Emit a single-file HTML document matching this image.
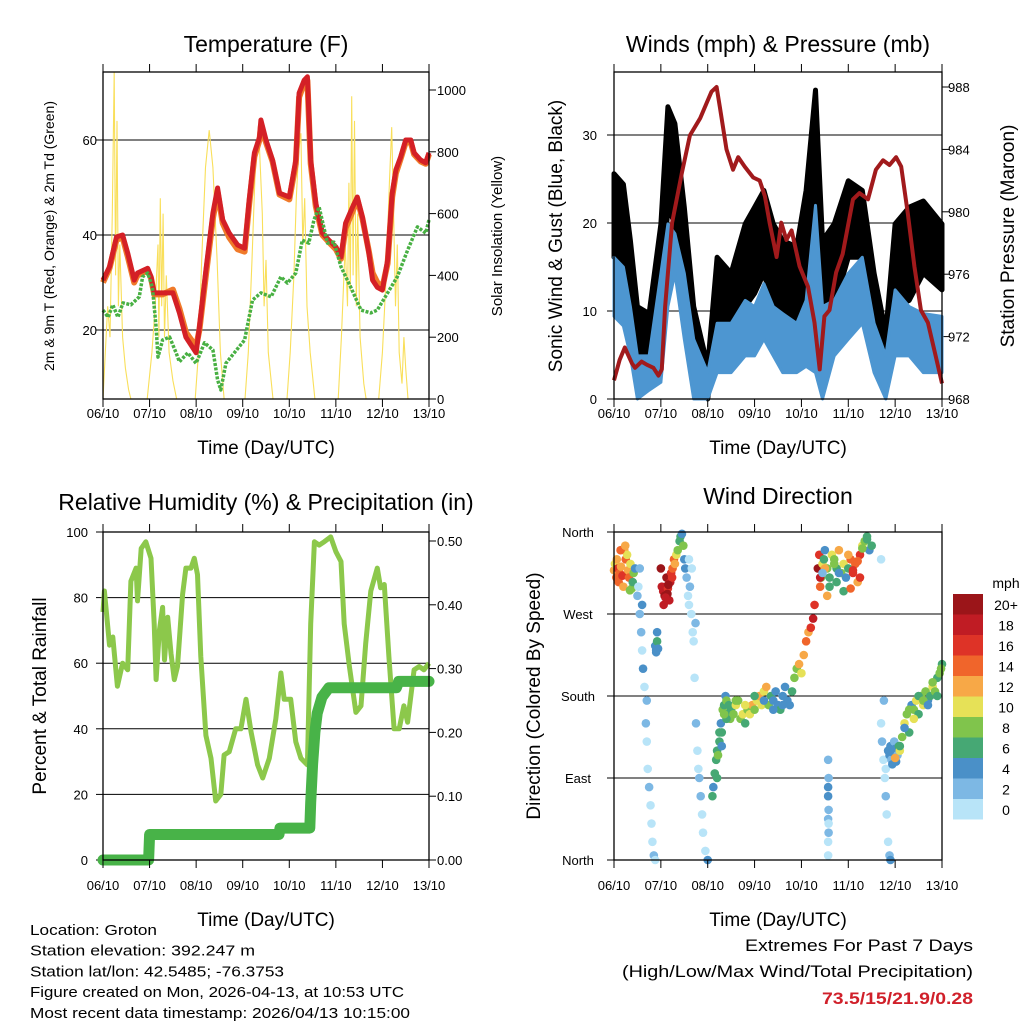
<!DOCTYPE html>
<html><head><meta charset="utf-8"><style>
html,body{margin:0;padding:0;background:#fff;}
svg text{font-family:"Liberation Sans",sans-serif;}
</style></head><body>
<svg id="chart" width="1024" height="1024" viewBox="0 0 1024 1024" xmlns="http://www.w3.org/2000/svg"></svg>
<script>
// ---------- data ----------
const dayLabels = ["06/10","07/10","08/10","09/10","10/10","11/10","12/10","13/10"];
// Temperature 2m (red)
const tempT = [0,0.14,0.29,0.42,0.53,0.67,0.74,0.96,1.03,1.10,1.28,1.50,1.64,1.78,2.0,2.07,2.21,2.36,2.46,2.57,2.71,2.89,3.04,3.14,3.25,3.36,3.39,3.50,3.64,3.79,4.0,4.14,4.21,4.32,4.39,4.46,4.57,4.71,4.85,5.0,5.11,5.21,5.36,5.46,5.57,5.71,5.79,5.89,6.0,6.11,6.21,6.29,6.39,6.5,6.61,6.68,6.82,6.93,7.0];
const temp2m = [30.5,33.3,39.6,40,36.2,30.5,32,33,31.2,27.8,27.8,27.8,23.6,18.5,15.2,20.6,32.6,44.6,49.9,43.2,40.4,37.9,37.2,47.4,57.3,60.6,64.2,60,55.8,48.8,48,55.8,69.9,72.6,73.3,55.8,46.7,40.4,38.9,37.5,35.4,42.5,45.9,48,43.8,36.2,30.5,29,28.4,34.7,48.8,53.7,56.4,60,60,57.3,55.8,55.2,57.3];
const temp9m = [30,33,39,39.5,35.5,30,31.5,32.5,31,27.5,27.5,28.5,24.5,19.5,16.5,20,31.5,43.5,49,42.5,39.5,37,36.5,46.5,56.5,60,63,59.5,55.5,48.5,47.5,55,69,72,72.5,55,46,40,38.5,37,35,41.5,45,47.5,43.5,36.5,32,30,29,34,48,53,56,59.5,59.5,57,55.5,55,57];
// Dewpoint (green)
const tdT = [0,0.11,0.21,0.32,0.43,0.6,0.78,0.85,0.96,1.06,1.14,1.18,1.28,1.43,1.57,1.64,1.82,2.0,2.18,2.36,2.46,2.53,2.64,2.82,3.04,3.21,3.39,3.61,3.82,3.96,4.14,4.28,4.42,4.53,4.64,4.82,4.96,5.11,5.32,5.54,5.75,5.89,6.11,6.32,6.54,6.75,6.93,7.0];
const tdVal = [24.2,22.7,25.3,22.7,25.7,25.3,27,31.2,32,29,20.6,14.3,17.9,18.5,15.2,13.3,15.2,13,17.3,15.8,9.5,7.4,13,15.2,17.9,26.3,27.8,27,31.2,29.9,32,38.9,38.3,43.2,45.9,38.3,38.5,33.3,29,24.2,23.6,24.2,27.8,31.2,36.8,41.7,40.4,43.2];
// Solar insolation (yellow)
const solarT = [0,0.05,0.1,0.15,0.2,0.24,0.27,0.3,0.33,0.36,0.42,0.48,0.55,0.6,
 0.95,1.05,1.12,1.18,1.2,1.23,1.26,1.29,1.32,1.36,1.42,1.5,1.58,
 1.98,2.05,2.12,2.2,2.28,2.36,2.45,2.52,2.6,
 3.05,3.12,3.2,3.27,3.35,3.42,3.46,3.5,3.55,3.65,
 3.95,4.02,4.1,4.15,4.2,4.25,4.29,4.33,4.38,4.45,4.55,
 5.05,5.12,5.2,5.25,5.28,5.31,5.34,5.37,5.4,5.44,5.47,5.52,5.6,5.65,
 5.92,6.0,6.08,6.15,6.2,6.24,6.28,6.32,6.36,6.42,6.46,6.5,6.55,7.0];
const solarVal = [0,150,300,200,600,1060,400,900,300,500,200,100,30,0,
 0,150,300,500,200,650,300,600,200,400,150,60,0,
 0,150,450,750,870,750,450,150,0,
 0,150,450,750,850,600,300,450,150,0,
 0,150,400,650,800,860,500,650,300,150,0,
 0,200,500,300,700,350,980,400,900,300,600,200,50,0,
 0,150,400,700,880,600,300,500,150,50,200,100,0,0];
// Winds
const windT = [0,0.2,0.35,0.5,0.75,1.0,1.15,1.3,1.5,1.7,2.0,2.2,2.5,2.8,3.0,3.2,3.4,3.6,3.9,4.1,4.3,4.45,4.7,5.0,5.3,5.55,5.8,6.0,6.3,6.6,7.0];
const windHi = [16.1,15,10.5,4.9,4.9,14.3,19.9,18.8,14.3,6.8,3,8.6,8.6,11.2,10.5,13.1,10.5,9.7,8.6,11.2,22,10.5,11.2,14.3,16.1,8.6,4.9,12.4,10.5,9.7,9.4];
const windLo = [9.4,8.3,4.9,0,1,1.9,10.5,14.3,6.8,0,0,3,3,4.9,4.9,6.8,4.9,3,3,3.7,3,0,4.9,6.8,8.6,3,0,4.9,4.9,3,3];
const gustHi = [25.6,24.4,18,10.5,9.7,19.9,33.2,31.3,21.8,10.5,3.7,16.1,14.3,19.9,21.8,23.7,19.9,18,17.3,23.7,35.1,18,19.9,24.8,23.7,14.3,7.5,19.9,21.8,22.5,19.9];
const gustLo = [16.1,15,10.5,3,3,10.5,21.8,19.9,14.3,3,0,7.9,7.9,10.5,12,14.3,10.5,7.9,7.9,10.5,18,3,10.5,16.1,16.1,6.8,3,10.5,11.2,14.3,12.4];
// Pressure (maroon)
const presT = [0,0.12,0.23,0.38,0.45,0.59,0.70,0.84,0.95,1.02,1.09,1.24,1.45,1.62,1.84,1.98,2.08,2.19,2.26,2.40,2.54,2.65,2.79,2.97,3.11,3.22,3.32,3.47,3.57,3.68,3.79,3.96,4.14,4.28,4.39,4.49,4.60,4.74,4.88,5.10,5.24,5.42,5.59,5.74,5.88,6.02,6.13,6.27,6.41,6.55,6.70,6.87,7.0];
const presVal = [969.2,970.5,971.3,970.3,970,970.4,970.2,970,969.5,969.9,973.9,979.3,982.5,984.9,986,987,987.7,988,986.7,984,982.7,983.5,982.9,982.2,982,981,979.3,977.1,979.3,978.2,978.8,976.5,975.2,972.9,969.9,973.3,973.7,976.1,977.3,980.8,981.2,980.8,982.7,983.3,983,983.5,982.9,979.9,976.5,973.7,972.9,970.7,969];
// RH (light green)
const rhT = [0,0.03,0.14,0.21,0.31,0.42,0.53,0.60,0.71,0.74,0.82,0.92,1.03,1.10,1.14,1.21,1.28,1.32,1.39,1.46,1.53,1.60,1.71,1.78,1.89,1.96,2.03,2.10,2.21,2.32,2.42,2.53,2.60,2.71,2.85,2.96,3.07,3.18,3.32,3.43,3.57,3.71,3.82,3.89,4.03,4.14,4.25,4.39,4.46,4.54,4.64,4.75,4.89,5.0,5.11,5.18,5.29,5.43,5.54,5.64,5.75,5.89,5.96,6.04,6.14,6.25,6.36,6.46,6.54,6.68,6.79,6.89,7.0];
const rhVal = [75.6,82,65.5,68,53,60,58,85,89,79,95,97,92,72,55,70,77,61,74,63,55,59,81,89,89,92,87,62,38,31,18,20,32,33,40,40,49,39,29,25,31,43,57,49,49,36,31,29,72,97,96,97,98.5,94,91,72,59,45,47,66,82,89,83,84,62,40,40,47,42,58,59,58,60];
// Precipitation (dark green)
const prT = [0,0.98,1.0,3.78,3.8,4.44,4.46,4.5,4.55,4.6,4.7,4.85,6.3,6.35,7.0];
const prVal = [0,0,0.04,0.04,0.05,0.05,0.09,0.15,0.2,0.23,0.255,0.27,0.27,0.28,0.28];
// Wind direction (deg, 0=N bottom) colored by speed
const wdT = [0.0,0.02,0.05,0.08,0.1,0.12,0.15,0.18,0.2,0.22,0.25,0.28,0.3,0.32,0.35,0.38,0.4,0.42,0.45,0.06,0.14,0.24,0.34,
 0.5,0.52,0.55,0.58,0.6,0.62,0.65,0.68,0.7,0.72,0.75,0.78,0.8,0.82,0.85,0.88,0.9,0.92,0.55,0.6,0.7,
 0.88,0.9,0.92,0.94,
 1.0,1.02,1.05,1.08,1.1,1.12,1.15,1.18,1.2,1.22,1.25,1.28,1.06,1.14,1.24,1.1,1.16,
 1.3,1.33,1.36,1.4,1.42,1.45,1.48,1.5,1.52,
 1.55,1.58,1.6,1.62,1.65,1.68,1.7,1.72,1.75,1.78,1.8,1.82,1.85,1.88,1.9,1.95,2.0,1.6,1.66,1.74,
 2.1,2.12,2.15,2.18,2.2,2.22,2.25,2.28,2.3,2.32,2.35,2.38,2.4,2.42,2.45,2.48,2.5,2.55,2.6,2.65,2.7,2.75,2.8,2.85,2.9,2.95,3.0,3.05,3.1,3.15,3.2,3.25,3.3,3.35,3.4,3.45,3.5,3.55,3.6,3.65,3.7,3.75,3.8,3.85,3.9,3.95,4.0,4.05,4.1,4.15,4.2,4.25,4.28,2.2,2.3,2.4,2.6,2.8,3.0,3.2,3.4,3.6,2.25,2.35,
 4.35,4.38,4.4,4.42,4.45,4.48,4.5,4.55,4.6,4.65,4.7,4.75,4.8,4.85,4.9,4.95,5.0,5.05,5.1,5.15,5.2,5.25,5.3,5.35,5.4,5.45,5.5,4.4,4.5,4.6,4.7,4.8,4.9,5.0,5.1,5.2,5.3,5.4,4.45,4.55,4.75,5.05,5.25,
 4.57,4.57,4.58,4.57,4.58,4.57,4.57,4.58,4.57,4.58,
 5.7,5.72,5.75,5.78,5.8,5.82,5.85,5.88,5.9,5.76,5.8,5.7,
 5.85,5.88,5.9,5.92,5.95,5.98,6.0,6.02,6.05,6.08,5.94,6.0,6.1,
 6.1,6.15,6.2,6.25,6.3,6.35,6.4,6.45,6.5,6.55,6.6,6.65,6.7,6.75,6.8,6.85,6.9,6.95,7.0,6.2,6.3,6.4,6.5,6.6,6.7,6.8,6.9,6.98];
const wdDir = [318,325,310,320,305,315,322,312,300,340,330,335,318,310,325,298,305,315,320,330,340,345,296,
 290,300,270,250,230,210,190,150,130,100,80,60,40,20,5,0,230,250,320,280,175,
 235,228,240,232,
 320,300,295,290,300,310,298,285,305,315,320,330,280,292,310,288,302,
 325,335,340,350,355,358,345,330,320,
 310,290,280,300,270,250,240,200,150,120,100,90,70,50,30,10,0,330,320,260,
 70,80,95,110,120,115,130,150,140,165,170,180,175,160,170,155,165,160,170,175,155,160,150,165,160,170,165,175,180,170,185,190,170,180,175,185,170,165,180,190,175,170,185,200,210,215,205,225,240,250,255,265,280,90,125,155,175,170,180,175,165,170,140,160,
 320,335,300,310,325,330,340,320,310,335,330,320,340,315,325,310,320,330,315,325,305,335,345,350,355,340,345,310,320,300,325,315,295,335,318,328,342,352,315,290,305,298,310,
 80,70,55,45,30,20,110,40,5,90,
 150,130,110,90,70,50,20,5,0,175,100,330,
 120,115,125,110,118,130,122,108,115,125,105,112,120,
 125,135,150,160,140,170,165,175,160,180,170,185,175,180,190,185,200,205,215,145,165,155,180,175,170,195,180,210];
const wdSpd = [12,10,14,16,14,15,12,16,13,12,14,11,12,15,10,8,6,8,4,12,14,12,9,
 2,1,3,2,0,4,1,2,0,1,2,0,1,0,2,0,4,5,2,4,3,
 4,5,6,4,
 20,18,19,20,18,20,17,19,18,16,15,14,19,20,17,18,20,
 12,10,8,6,6,4,8,5,4,
 2,1,0,2,1,0,1,0,2,1,0,3,2,1,0,0,4,1,0,3,
 6,4,6,7,6,8,7,5,7,8,6,4,8,6,7,8,6,8,10,9,8,10,7,8,10,12,9,10,12,11,10,13,8,6,4,5,4,6,5,4,4,5,6,8,9,12,10,12,14,13,16,18,16,6,5,7,8,11,6,4,5,4,7,8,
 20,16,14,8,10,6,4,8,6,10,8,6,12,8,10,4,6,14,16,14,12,16,10,8,6,4,6,18,12,6,8,4,6,12,16,14,8,6,2,12,6,14,16,
 4,4,2,2,2,0,2,1,0,3,
 1,2,0,1,2,0,1,3,4,2,0,1,
 4,5,4,3,4,2,4,5,3,6,4,12,10,
 6,8,10,8,6,4,8,10,6,8,10,8,4,6,10,8,6,8,6,4,8,10,6,8,4,8,6,8];
const cbLabels = ["20+","18","16","14","12","10","8","6","4","2","0"];
const cbColors = ["#9b1519","#c01c24","#de3327","#f0652b","#f7a847","#e6e157","#80c44c","#46a874","#4a90c8","#7db8e4","#b8e4f8"];
const extremes = {high:73.5, low:15, wind:21.9, precip:0.28};

// ---------- helpers ----------
const NS = "http://www.w3.org/2000/svg";
const svg = document.getElementById("chart");
function mk(tag, attrs, parent){
  const e = document.createElementNS(NS, tag);
  for (const k in attrs) e.setAttribute(k, attrs[k]);
  (parent||svg).appendChild(e);
  return e;
}
function txt(s, x, y, size, anchor, parent, extra){
  const t = mk("text", Object.assign({x:x, y:y, "font-size":size, "text-anchor":anchor||"middle", fill:"#000"}, extra||{}), parent);
  t.textContent = s;
  return t;
}
function pathFrom(xs, ys){ let d=""; for(let i=0;i<xs.length;i++){ d += (i?"L":"M")+xs[i].toFixed(1)+","+ys[i].toFixed(1);} return d; }
function speedColor(s){ return cbColors[10-Math.min(10, Math.floor(s/2))]; }

function panel(name, L, R, T, B){
  const g = mk("g", {});  
  return {g, L, R, T, B, x: d => L + d*(R-L)/7};
}
function frame(p){
  const r = mk("rect", {x:p.L, y:p.T, width:p.R-p.L, height:p.B-p.T, fill:"none", stroke:"#000", "stroke-width":1.3}, p.g);
   
}
function xaxis(p, labelY){
  const g = mk("g", {}, p.g);  
  for (let i=0;i<dayLabels.length;i++){
    const x = p.x(i);
    mk("line", {x1:x, x2:x, y1:p.B, y2:p.B+8, stroke:"#000", "stroke-width":1}, g);
    mk("line", {x1:x, x2:x, y1:p.T, y2:p.T-8, stroke:"#000", "stroke-width":1}, g);
    const t = txt(dayLabels[i], x, labelY, 13, "middle", g);
     
  }
  const at = txt("Time (Day/UTC)", (p.L+p.R)/2, labelY+36, 19, "middle", g);
   
}
function yTicks(p, vals, yfn, side, labels, grid, tx){
  const g = mk("g", {}, p.g);  
  for (let i=0;i<vals.length;i++){
    const y = yfn(vals[i]);
    if (grid) mk("line", {x1:p.L, x2:p.R, y1:y, y2:y, stroke:"#000", "stroke-width":1}, g);
    if (side==="left") mk("line", {x1:p.L-7, x2:p.L, y1:y, y2:y, stroke:"#000"}, g);
    else mk("line", {x1:p.R, x2:p.R+7, y1:y, y2:y, stroke:"#000"}, g);
    const t = txt(labels[i], tx, y+5, 13, side==="left"?"end":"start", g);
     
  }
}
function vTitle(s, x, y, size, parent){
  const t = txt(s, x, y, size, "middle", parent, {transform:"rotate(-90 "+x+" "+y+")"});
   
}
function title(s, x, y, parent){
  const t = txt(s, x, y, 23, "middle", parent);
   
}

// ---------- Panel 1: Temperature ----------
const p1 = panel("temperature-panel", 103, 429, 72, 399);
const yT = v => 330 - (v-20)*4.75;
const yS = v => 399 - v*0.309;
title("Temperature (F)", 266, 52, p1.g);
yTicks(p1, [20,40,60], yT, "left", ["20","40","60"], true, 97);
yTicks(p1, [0,200,400,600,800,1000], yS, "right", ["0","200","400","600","800","1000"], false, 437);
let sol = mk("path", {d:pathFrom(solarT.map(p1.x), solarVal.map(yS)), fill:"none", stroke:"#f9df5a", "stroke-width":1.1}, p1.g);
 
let t9 = mk("path", {d:pathFrom(tempT.map(p1.x), temp9m.map(yT)), fill:"none", stroke:"#f07a2a", "stroke-width":6, "stroke-linejoin":"round"}, p1.g);
 
let t2 = mk("path", {d:pathFrom(tempT.map(p1.x), temp2m.map(yT)), fill:"none", stroke:"#d42026", "stroke-width":5, "stroke-linejoin":"round"}, p1.g);
 
let td = mk("path", {d:pathFrom(tdT.map(p1.x), tdVal.map(yT)), fill:"none", stroke:"#48b043", "stroke-width":3.5, "stroke-dasharray":"3 1.5", "stroke-linejoin":"round"}, p1.g);
 
frame(p1); xaxis(p1, 418);
vTitle("2m & 9m T (Red, Orange) & 2m Td (Green)", 54, 236, 14, p1.g);
vTitle("Solar Insolation (Yellow)", 502, 236, 15, p1.g);

// ---------- Panel 2: Winds & Pressure ----------
const p2 = panel("winds-pressure-panel", 614, 942, 72, 399);
const yW = v => 399 - v*8.8;
const yP = v => 399 - (v-968)*15.6;
title("Winds (mph) & Pressure (mb)", 778, 52, p2.g);
yTicks(p2, [0,10,20,30], yW, "left", ["0","10","20","30"], true, 597);
yTicks(p2, [968,972,976,980,984,988], yP, "right", ["968","972","976","980","984","988"], false, 948);
const gx = windT.map(p2.x);
let gb = mk("path", {d:pathFrom(gx.concat(gx.slice().reverse()), gustHi.map(yW).concat(gustLo.map(yW).reverse()))+"Z", fill:"#000", stroke:"#000", "stroke-width":5, "stroke-linejoin":"round"}, p2.g);
 
let wb = mk("path", {d:pathFrom(gx.concat(gx.slice().reverse()), windHi.map(yW).concat(windLo.map(yW).reverse()))+"Z", fill:"#4d96d1", stroke:"#4d96d1", "stroke-width":3, "stroke-linejoin":"round"}, p2.g);
 
let pl = mk("path", {d:pathFrom(presT.map(p2.x), presVal.map(yP)), fill:"none", stroke:"#a11a1c", "stroke-width":4, "stroke-linejoin":"round"}, p2.g);
 
frame(p2); xaxis(p2, 418);
vTitle("Sonic Wind & Gust (Blue, Black)", 562, 236, 19, p2.g);
vTitle("Station Pressure (Maroon)", 1014, 236, 19, p2.g);

// ---------- Panel 3: RH & Precip ----------
const p3 = panel("humidity-precip-panel", 103, 429, 532, 860);
const yR = v => 860 - v*3.28;
const yPr = v => 860 - v*638;
title("Relative Humidity (%) & Precipitation (in)", 266, 510, p3.g);
yTicks(p3, [0,20,40,60,80,100], yR, "left", ["0","20","40","60","80","100"], true, 88);
yTicks(p3, [0,0.1,0.2,0.3,0.4,0.5], yPr, "right", ["0.00","0.10","0.20","0.30","0.40","0.50"], false, 437);
let rh = mk("path", {d:pathFrom(rhT.map(p3.x), rhVal.map(yR)), fill:"none", stroke:"#8cc84b", "stroke-width":5, "stroke-linejoin":"round"}, p3.g);
 
let pr = mk("path", {d:pathFrom(prT.map(p3.x), prVal.map(yPr)), fill:"none", stroke:"#48b348", "stroke-width":11, "stroke-linejoin":"round", "stroke-linecap":"round"}, p3.g);
 
frame(p3); xaxis(p3, 890);
vTitle("Percent & Total Rainfall", 46, 696, 19, p3.g);

// ---------- Panel 4: Wind direction ----------
const p4 = panel("wind-direction-panel", 614, 942, 532, 860);
const yD = v => 860 - v*328/360;
title("Wind Direction", 778, 504, p4.g);
yTicks(p4, [0,90,180,270,360], yD, "left", ["","","","",""], true, 600);
const dirNames = ["North","East","South","West","North"];
[0,90,180,270,360].forEach((v,i)=>{
  const t = txt(dirNames[i], 578, yD(v)+5, 13, "middle", p4.g);
   
});
const dots = mk("g", {}, p4.g);
 
for (let i=0;i<wdT.length;i++){
  const c = mk("circle", {cx:p4.x(wdT[i]), cy:yD(wdDir[i]), r:4.3, fill:speedColor(wdSpd[i])}, dots);
  
  
}
frame(p4); xaxis(p4, 890);
vTitle("Direction (Colored By Speed)", 540, 696, 19, p4.g);

// colorbar
const cb = mk("g", {});  
txt("mph", 1006, 588, 14, "middle", cb);
for (let i=0;i<cbLabels.length;i++){
  const y = 594 + i*20.5;
  const r = mk("rect", {x:953, y:y, width:30, height:20.5, fill:cbColors[i]}, cb);
   
  const t = txt(cbLabels[i], 1006, y+16, 14, "middle", cb);
   
}

// ---------- footer text ----------
const info = mk("g", {});  
const infoLines = [["Location: Groton",127],["Station elevation: 392.247 m",225],["Station lat/lon: 42.5485; -76.3753",254],["Figure created on Mon, 2026-04-13, at 10:53 UTC",374],["Most recent data timestamp: 2026/04/13 10:15:00",380]];
infoLines.forEach((l,i)=>{ txt(l[0], 30, 935+i*20.7, 14.5, "start", info, {textLength:l[1], lengthAdjust:"spacingAndGlyphs"}); });
const ex = mk("g", {});  
txt("Extremes For Past 7 Days", 973, 951, 17, "end", ex, {textLength:228, lengthAdjust:"spacingAndGlyphs"});
txt("(High/Low/Max Wind/Total Precipitation)", 973, 977, 17, "end", ex, {textLength:351, lengthAdjust:"spacingAndGlyphs"});
const ev = txt(extremes.high+"/"+extremes.low+"/"+extremes.wind+"/"+extremes.precip, 973, 1004, 17, "end", ex, {textLength:151, lengthAdjust:"spacingAndGlyphs", "font-weight":"bold", fill:"#d0202a"});
 
</script>
</body></html>
